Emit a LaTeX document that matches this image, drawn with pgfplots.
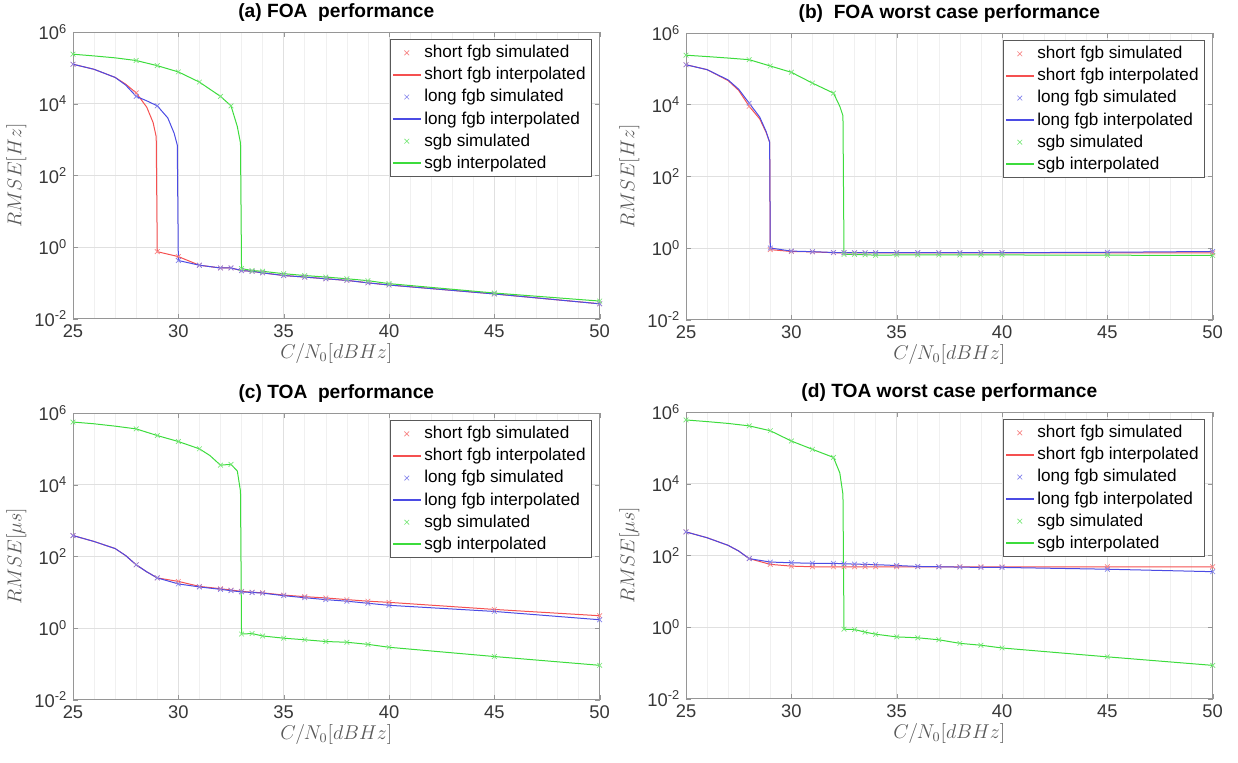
\documentclass[border=0pt]{standalone}
\usepackage[no-math]{fontspec}
\setmainfont{Liberation Sans}
\usepackage{pgfplots}
\pgfplotsset{compat=1.18}
\definecolor{cred}{RGB}{245,80,80}
\definecolor{cblue}{RGB}{75,75,228}
\definecolor{cgreen}{RGB}{60,220,60}
\definecolor{axgray}{RGB}{150,150,150}
\definecolor{txtgray}{RGB}{55,55,55}
\pgfplotsset{
  sim/.style={only marks, mark=x, mark size=2pt, line width=0.4pt, color=#1!70,
    legend image code/.code={\draw[#1!70, line width=0.4pt] plot[mark=x, mark size=2pt] coordinates {(0.3cm,0cm)};}},
  itp/.style={no marks, line width=0.6pt, color=#1, draw=#1,
    legend image code/.code={\fill[fill=#1, draw=none] (0cm,-0.6pt) rectangle (0.6cm,0.6pt);}},
  panel/.style={
    scale only axis, width=316pt, height=172pt,
    xmin=25, xmax=50, ymin=1e-2, ymax=1e6,
    xtick={25,30,...,50}, xticklabels={25,30,35,40,45,50},
    ytick={1e-2,1,1e2,1e4,1e6},
    yticklabels={10\textsuperscript{-2},10\textsuperscript{0},10\textsuperscript{2},10\textsuperscript{4},10\textsuperscript{6}},
    yminorticks=false, minor x tick num=4,
    xmajorgrids, ymajorgrids, xminorgrids,
    major grid style={draw=black!12, line width=0.4pt},
    minor grid style={draw=black!6, line width=0.3pt},
    axis line style={draw=axgray}, tick style={draw=axgray},
    tick align=inside, major tick length=3pt, minor tick length=0pt,
    tick label style={font=\fontsize{11}{13}\selectfont, text=txtgray},
    label style={font=\fontsize{11.5}{13}\selectfont, text=black!65},
    title style={font=\fontsize{11.5}{13}\selectfont\bfseries, yshift=-3pt},
    xlabel={$C/N_0[dBHz]$},
    ylabel style={yshift=-2pt}, xlabel style={yshift=3pt},
    legend style={at={(0.985,0.975)}, anchor=north east, font=\fontsize{10.3}{12}\selectfont,
      draw=black!65, fill=white, inner sep=1.5pt, row sep=0.3pt},
    legend cell align=left,
  }}
\begin{document}
\begin{tikzpicture}
\useasboundingbox (0,0) rectangle (742.8pt,-457.2pt);
% (a)
\begin{semilogyaxis}[panel, at={(43.8pt,-19.2pt)}, anchor=north west,
  title={(a) FOA\ \ performance}, ylabel={$RMSE[Hz]$}]
\addplot[sim=cred] coordinates {(25,1.26e5) (28,2.0e4) (29,0.74) (30,0.54) (31,0.31) (32,0.26) (32.5,0.26) (33,0.22) (33.5,0.21) (34,0.19) (35,0.16) (36,0.145) (37,0.13) (38,0.117) (39,0.1) (40,0.087) (45,0.049) (50,0.026)};
\addplot[itp=cred] coordinates {(25,1.26e5) (26,9.1e4) (27,5.4e4) (27.5,3.5e4) (28,2.0e4) (28.5,8e3) (28.8,3e3) (28.95,1.2e3) (29,0.74) (30,0.54) (31,0.31) (32,0.26) (32.5,0.26) (33,0.22) (33.5,0.21) (34,0.19) (35,0.16) (36,0.145) (37,0.13) (38,0.117) (39,0.1) (40,0.087) (45,0.049) (50,0.026)};
\addplot[sim=cblue] coordinates {(25,1.26e5) (28,1.6e4) (29,8.7e3) (30,0.42) (31,0.31) (32,0.26) (32.5,0.26) (33,0.22) (33.5,0.21) (34,0.19) (35,0.16) (36,0.145) (37,0.13) (38,0.117) (39,0.1) (40,0.087) (45,0.049) (50,0.026)};
\addplot[itp=cblue] coordinates {(25,1.26e5) (26,9.1e4) (27,5.4e4) (27.5,3.3e4) (28,1.6e4) (28.5,1.2e4) (29,8.7e3) (29.5,4e3) (29.8,1.5e3) (29.95,7e2) (30,0.42) (31,0.31) (32,0.26) (32.5,0.26) (33,0.22) (33.5,0.21) (34,0.19) (35,0.16) (36,0.145) (37,0.13) (38,0.117) (39,0.1) (40,0.087) (45,0.049) (50,0.026)};
\addplot[sim=cgreen] coordinates {(25,2.4e5) (28,1.6e5) (29,1.15e5) (30,7.7e4) (31,4e4) (32,1.6e4) (32.5,8.7e3) (33,0.25) (33.5,0.22) (34,0.21) (35,0.18) (36,0.16) (37,0.145) (38,0.13) (39,0.115) (40,0.095) (45,0.052) (50,0.031)};
\addplot[itp=cgreen] coordinates {(25,2.4e5) (26,2.15e5) (27,1.9e5) (28,1.6e5) (29,1.15e5) (30,7.7e4) (31,4e4) (32,1.6e4) (32.5,8.7e3) (32.8,2.3e3) (32.95,8e2) (33,0.25) (33.5,0.22) (34,0.21) (35,0.18) (36,0.16) (37,0.145) (38,0.13) (39,0.115) (40,0.095) (45,0.052) (50,0.031)};
\legend{short fgb simulated,short fgb interpolated,long fgb simulated,long fgb interpolated,sgb simulated,sgb interpolated}
\end{semilogyaxis}
% (b)
\begin{semilogyaxis}[panel, at={(411.6pt,-19.8pt)}, anchor=north west,
  title={(b)\ \ FOA worst case performance}, ylabel={$RMSE[Hz]$}]
\addplot[sim=cred] coordinates {(25,1.3e5) (28,9e3) (29,0.9) (30,0.8) (31,0.78) (32,0.74) (32.5,0.73) (33,0.73) (33.5,0.73) (34,0.73) (35,0.73) (36,0.73) (37,0.73) (38,0.73) (39,0.73) (40,0.73) (45,0.73) (50,0.73)};
\addplot[itp=cred] coordinates {(25,1.3e5) (26,9.5e4) (27,4.7e4) (27.5,2.5e4) (28,9e3) (28.5,4e3) (28.8,1.7e3) (28.97,9e2) (29,0.9) (30,0.8) (31,0.78) (32,0.74) (32.5,0.73) (33,0.73) (35,0.73) (40,0.73) (45,0.73) (50,0.73)};
\addplot[sim=cblue] coordinates {(25,1.3e5) (28,1.1e4) (29,1.0) (30,0.82) (31,0.79) (32,0.75) (32.5,0.74) (33,0.74) (33.5,0.74) (34,0.74) (35,0.74) (36,0.74) (37,0.74) (38,0.74) (39,0.74) (40,0.74) (45,0.76) (50,0.8)};
\addplot[itp=cblue] coordinates {(25,1.3e5) (26,9.5e4) (27,4.9e4) (27.5,2.7e4) (28,1.1e4) (28.5,4.5e3) (28.8,1.8e3) (28.97,9e2) (29,1.0) (30,0.82) (31,0.79) (32,0.75) (32.5,0.74) (33,0.74) (35,0.74) (40,0.74) (45,0.76) (50,0.8)};
\addplot[sim=cgreen] coordinates {(25,2.4e5) (28,1.8e5) (29,1.2e5) (30,8e4) (31,4e4) (32,2.1e4) (32.5,0.66) (33,0.66) (33.5,0.65) (34,0.63) (35,0.64) (36,0.64) (37,0.64) (38,0.64) (39,0.64) (40,0.64) (45,0.63) (50,0.62)};
\addplot[itp=cgreen] coordinates {(25,2.4e5) (26,2.2e5) (27,2e5) (28,1.8e5) (29,1.2e5) (30,8e4) (31,4e4) (32,2.1e4) (32.3,9e3) (32.45,4.9e3) (32.5,0.66) (33,0.66) (33.5,0.65) (34,0.63) (35,0.64) (40,0.64) (45,0.63) (50,0.62)};
\legend{short fgb simulated,short fgb interpolated,long fgb simulated,long fgb interpolated,sgb simulated,sgb interpolated}
\end{semilogyaxis}
% (c)
\begin{semilogyaxis}[panel, at={(43.8pt,-247.8pt)}, anchor=north west,
  title={(c)\ TOA\ \ performance}, ylabel={$RMSE[\mu s]$}]
\addplot[sim=cred] coordinates {(25,380) (28,58) (29,25) (30,20) (31,14.5) (32,12.5) (32.5,11.5) (33,10.5) (33.5,10) (34,9.6) (35,8.3) (36,7.5) (37,6.9) (38,6.2) (39,5.6) (40,5.2) (45,3.3) (50,2.2)};
\addplot[itp=cred] coordinates {(25,380) (26,260) (27,165) (27.5,105) (28,58) (28.5,37) (29,25) (30,20) (31,14.5) (32,12.5) (32.5,11.5) (33,10.5) (33.5,10) (34,9.6) (35,8.3) (36,7.5) (37,6.9) (38,6.2) (39,5.6) (40,5.2) (45,3.3) (50,2.2)};
\addplot[sim=cblue] coordinates {(25,380) (28,58) (29,25) (30,17) (31,14) (32,12) (32.5,11) (33,10.2) (33.5,9.8) (34,9.4) (35,8.0) (36,7.0) (37,6.2) (38,5.6) (39,4.9) (40,4.3) (45,2.9) (50,1.7)};
\addplot[itp=cblue] coordinates {(25,380) (26,260) (27,165) (27.5,105) (28,58) (28.5,37) (29,25) (30,17) (31,14) (32,12) (32.5,11) (33,10.2) (33.5,9.8) (34,9.4) (35,8.0) (36,7.0) (37,6.2) (38,5.6) (39,4.9) (40,4.3) (45,2.9) (50,1.7)};
\addplot[sim=cgreen] coordinates {(25,5.6e5) (28,3.6e5) (29,2.35e5) (30,1.6e5) (31,1e5) (32,3.5e4) (32.5,3.7e4) (33,0.68) (33.5,0.7) (34,0.6) (35,0.52) (36,0.47) (37,0.42) (38,0.4) (39,0.35) (40,0.29) (45,0.16) (50,0.091)};
\addplot[itp=cgreen] coordinates {(25,5.6e5) (26,5e5) (27,4.3e5) (28,3.6e5) (29,2.35e5) (30,1.6e5) (31,1e5) (31.5,6.5e4) (32,3.5e4) (32.5,3.7e4) (32.8,2.4e4) (32.95,6.6e3) (33,0.68) (33.5,0.7) (34,0.6) (35,0.52) (36,0.47) (37,0.42) (38,0.4) (39,0.35) (40,0.29) (45,0.16) (50,0.091)};
\legend{short fgb simulated,short fgb interpolated,long fgb simulated,long fgb interpolated,sgb simulated,sgb interpolated}
\end{semilogyaxis}
% (d)
\begin{semilogyaxis}[panel, at={(411.6pt,-247.2pt)}, anchor=north west,
  title={(d)\ TOA worst case performance}, ylabel={$RMSE[\mu s]$}]
\addplot[sim=cred] coordinates {(25,450) (28,81) (29,56) (30,50) (31,48) (32,48) (32.5,48) (33,48) (33.5,48) (34,48) (35,48) (36,48) (37,48) (38,48) (39,48) (40,48) (45,48) (50,48)};
\addplot[itp=cred] coordinates {(25,450) (26,310) (27,190) (27.5,132) (28,81) (29,56) (30,50) (31,48) (32,48) (35,48) (40,48) (45,48) (50,48)};
\addplot[sim=cblue] coordinates {(25,450) (28,81) (29,65) (30,62) (31,60) (32,60) (32.5,58) (33,57) (33.5,56) (34,55) (35,52) (36,49) (37,48) (38,47) (39,46) (40,46) (45,41) (50,35)};
\addplot[itp=cblue] coordinates {(25,450) (26,310) (27,190) (27.5,132) (28,81) (29,65) (30,62) (31,60) (32,60) (32.5,58) (33,57) (33.5,56) (34,55) (35,52) (36,49) (37,48) (38,47) (39,46) (40,46) (45,41) (50,35)};
\addplot[sim=cgreen] coordinates {(25,6e5) (28,4.1e5) (29,3e5) (30,1.55e5) (31,9.1e4) (32,5.4e4) (32.5,0.87) (33,0.85) (33.5,0.72) (34,0.63) (35,0.53) (36,0.5) (37,0.44) (38,0.35) (39,0.31) (40,0.26) (45,0.147) (50,0.085)};
\addplot[itp=cgreen] coordinates {(25,6e5) (26,5.4e5) (27,4.8e5) (28,4.1e5) (29,3e5) (30,1.55e5) (31,9.1e4) (32,5.4e4) (32.3,2e4) (32.45,5e3) (32.5,0.87) (33,0.85) (33.5,0.72) (34,0.63) (35,0.53) (36,0.5) (37,0.44) (38,0.35) (39,0.31) (40,0.26) (45,0.147) (50,0.085)};
\legend{short fgb simulated,short fgb interpolated,long fgb simulated,long fgb interpolated,sgb simulated,sgb interpolated}
\end{semilogyaxis}
\end{tikzpicture}
\end{document}
